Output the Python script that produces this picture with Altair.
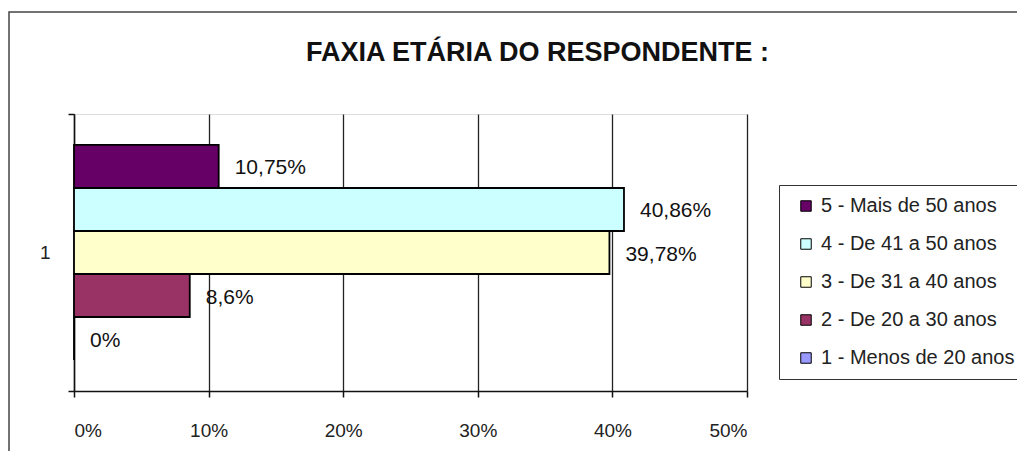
import altair as alt
import pandas as pd

series = ["1 - Menos de 20 anos", "2 - De 20 a 30 anos", "3 - De 31 a 40 anos",
          "4 - De 41 a 50 anos", "5 - Mais de 50 anos"]
values = [0.0, 8.6, 39.78, 40.86, 10.75]
colors = ["#9999ff", "#993366", "#ffffcc", "#ccffff", "#660066"]
category = ["1"] * 5
x_ticks = [0, 10, 20, 30, 40, 50]

df = pd.DataFrame({
    "cat": category,
    "serie": series,
    "valor": values,
    "rotulo": [f"{v:g}".replace(".", ",") + "%" for v in values],
})

order = series[::-1]
order_colors = colors[::-1]
FONT = "Liberation Sans"

y_enc = alt.Y("cat:N", scale=alt.Scale(paddingInner=0, paddingOuter=0),
              axis=alt.Axis(title=None, labelFontSize=19, labelColor="#222", tickSize=6,
                            labelPadding=18, tickColor="#111", domainColor="#111",
                            domainWidth=1.5, tickWidth=1.5, labelAngle=0,
                            tickBand="extent", labelFont=FONT))
yoff = alt.YOffset("serie:N", sort=order, scale=alt.Scale(paddingOuter=0.72, paddingInner=0))
x_enc = alt.X("valor:Q", scale=alt.Scale(domain=[0, 50], nice=False),
              axis=alt.Axis(title=None, values=x_ticks, labelExpr="datum.value + '%'",
                            grid=True, gridColor="#222", gridWidth=1.3, tickSize=6,
                            tickColor="#111", domainColor="#111", domainWidth=1.5,
                            tickWidth=1.5, labelFontSize=19, labelColor="#222",
                            labelPadding=24, labelFont=FONT))

bars = alt.Chart(df).mark_bar(stroke="black", strokeWidth=1.8).encode(
    y=y_enc, yOffset=yoff, x=x_enc,
    color=alt.Color("serie:N",
                    scale=alt.Scale(domain=order, range=order_colors),
                    legend=alt.Legend(title=None, orient="none", legendX=705, legendY=71,
                                      symbolType="square", symbolSize=110,
                                      symbolStrokeColor="black", symbolStrokeWidth=1,
                                      symbolOffset=6, labelLimit=0,
                                      labelFontSize=20, labelColor="#222", labelFont=FONT,
                                      rowPadding=18, padding=11, strokeColor="#333",
                                      fillColor="white", labelOffset=5)),
)

labels = alt.Chart(df).mark_text(align="left", baseline="middle", dx=16, dy=2,
                                 fontSize=21, color="#111", font=FONT).encode(
    y="cat:N", yOffset=alt.YOffset("serie:N", sort=order), x="valor:Q", text="rotulo:N")

frame = alt.Chart(pd.DataFrame({"a": [0]})).mark_rect(
    fillOpacity=0, stroke="#444", strokeWidth=1.5).encode(
    x=alt.value(-65), x2=alt.value(1500), y=alt.value(-102), y2=alt.value(1000))

chart = alt.layer(bars, labels, frame).properties(
    width=673, height=277,
    title=alt.TitleParams("FAXIA ETÁRIA DO RESPONDENTE :", fontSize=27, fontWeight="bold",
                          font=FONT, anchor="middle", frame="group", dx=127,
                          offset=-77, baseline="alphabetic", color="#111"),
    autosize=alt.AutoSizeParams(type="none"),
    padding={"left": 66, "top": 106, "right": 270, "bottom": 60},
).configure_view(stroke="#555", strokeWidth=2, fill="#c0c0c0").configure(background="white")

chart.save("out.html", embed_options={"renderer": "svg", "actions": False})
